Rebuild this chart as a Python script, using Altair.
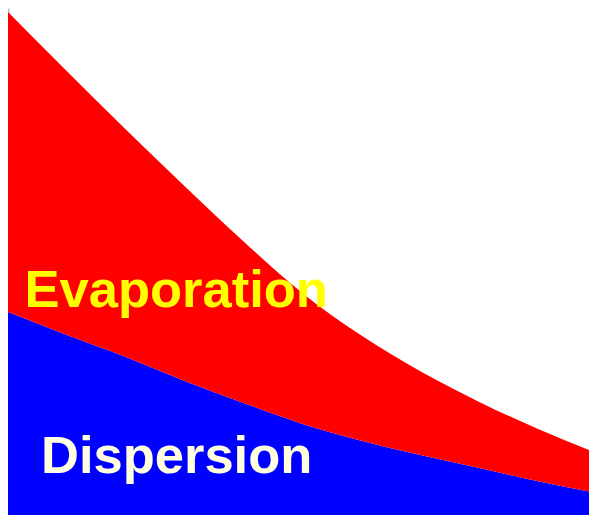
import altair as alt
import pandas as pd

# distance (arbitrary units, 0-100)
x_vals = [0, 10, 20, 30, 40, 50, 60, 70, 80, 90, 100]
# share removed by each process (stacked)
dispersion = [40.5, 36.0, 31.7, 27.0, 22.7, 18.6, 15.3, 12.5, 10.0, 7.4, 5.1]
total = [99.2, 87.6, 76.2, 65.1, 54.3, 44.2, 35.9, 28.9, 22.9, 17.6, 12.9]
evaporation = [round(t - d, 1) for t, d in zip(total, dispersion)]

processes = ["Dispersion", "Evaporation"]
colors = ["#0000FF", "#FF0000"]

label_text = ["Evaporation", "Dispersion"]
label_x = [2.8, 5.6]
label_y = [41.5, 9.0]
label_color = ["#FFFF00", "#FFFFE0"]

rows = []
for i, x in enumerate(x_vals):
    rows.append({"x": x, "process": "Dispersion", "value": dispersion[i], "ord": 0})
    rows.append({"x": x, "process": "Evaporation", "value": evaporation[i], "ord": 1})
df = pd.DataFrame(rows)

labels = pd.DataFrame({"text": label_text, "x": label_x, "y": label_y, "c": label_color})

xs = alt.Scale(domain=[0, 98.64], nice=False, zero=False)
ys = alt.Scale(domain=[0.78, 100], nice=False, zero=False)

area = alt.Chart(df).mark_area(interpolate="monotone", clip=True).encode(
    x=alt.X("x:Q", scale=xs,
            axis=alt.Axis(title=None, labels=False, ticks=False, grid=False,
                          domainColor="#444444", domainWidth=2)),
    y=alt.Y("value:Q", stack="zero", scale=ys,
            axis=alt.Axis(title=None, labels=False, ticks=False, grid=False,
                          domainColor="#BBBBBB", domainWidth=2)),
    color=alt.Color("process:N", scale=alt.Scale(domain=processes, range=colors), legend=None),
    order=alt.Order("ord:Q"),
)

text = alt.Chart(labels).mark_text(
    font="Liberation Sans", fontWeight="bold", fontSize=52.5,
    align="left", baseline="alphabetic",
).encode(
    x=alt.X("x:Q", scale=xs),
    y=alt.Y("y:Q", scale=ys),
    text="text:N",
    color=alt.Color("c:N", scale=None),
)

chart = (area + text).properties(
    width=581, height=507,
    autosize=alt.AutoSizeParams(type="none"),
    padding=0,
    background="white",
).configure_view(stroke=None)

chart.save("out.html", embed_options={"renderer": "svg", "actions": False})
